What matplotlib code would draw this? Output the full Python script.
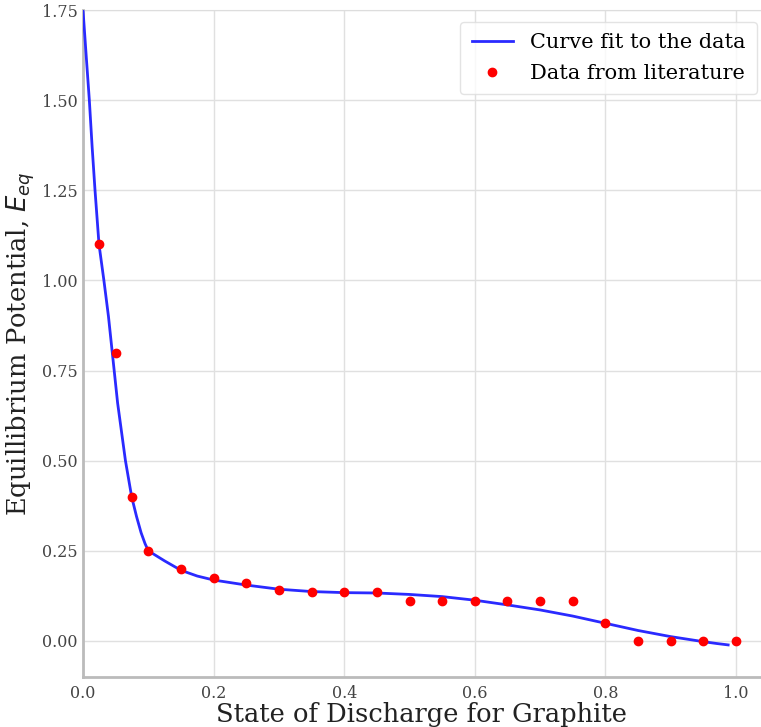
import matplotlib
matplotlib.use("Agg")
import matplotlib.pyplot as plt

# Literature data points
sod_data = [0.025, 0.05, 0.075, 0.1, 0.15, 0.2, 0.25, 0.3, 0.35, 0.4, 0.45, 0.5,
            0.55, 0.6, 0.65, 0.7, 0.75, 0.8, 0.85, 0.9, 0.95, 1.0]
eq_data = [1.1, 0.8, 0.4, 0.25, 0.2, 0.175, 0.16, 0.14, 0.135, 0.135, 0.135, 0.11,
           0.11, 0.11, 0.11, 0.11, 0.11, 0.05, 0.0, 0.0, 0.0, 0.0]

# Curve fit
sod_fit = [0.0, 0.005, 0.0097, 0.014, 0.0184, 0.0245, 0.032, 0.039, 0.046, 0.053, 0.059,
           0.065, 0.0745, 0.082, 0.089, 0.095, 0.1, 0.125, 0.15, 0.175, 0.2, 0.25,
           0.3, 0.35, 0.4, 0.45, 0.5, 0.55, 0.6, 0.65, 0.7, 0.75, 0.8, 0.85, 0.9, 0.95, 0.97, 0.988]
eq_fit = [1.75, 1.62, 1.5, 1.37, 1.25, 1.1, 1.0, 0.9, 0.78, 0.66, 0.58,
          0.5, 0.4, 0.345, 0.3, 0.27, 0.25, 0.222, 0.196, 0.18, 0.169, 0.155,
          0.1435, 0.137, 0.134, 0.133, 0.129, 0.123, 0.113, 0.1, 0.086, 0.069, 0.049, 0.029, 0.012, -0.002, -0.007, -0.011]

xticks = [0.0, 0.2, 0.4, 0.6, 0.8, 1.0]
yticks = [0.0, 0.25, 0.5, 0.75, 1.0, 1.25, 1.5, 1.75]

plt.rcParams['font.family'] = ['DejaVu Serif']
plt.rcParams['mathtext.fontset'] = 'dejavusans'

fig = plt.figure(figsize=(7.61, 7.27), dpi=100)
ax = fig.add_axes([83/761, (727-677)/727, (761-83)/761, (677-10)/727])

ax.plot(sod_fit, eq_fit, color='#2a2aff', lw=2, label='Curve fit to the data', zorder=3)
ax.plot(sod_data, eq_data, 'o', color='red', ms=6, label='Data from literature', zorder=4)

ax.set_xlim(0, (761-83)/653)
ax.set_ylim(-0.1, 1.75)
ax.set_xticks(xticks)
ax.set_yticks(yticks)
ax.set_xticklabels([f"{v:.1f}" for v in xticks])
ax.set_yticklabels([f"{v:.2f}" for v in yticks])
ax.tick_params(length=0, labelsize=11.5, labelcolor='#444444')
ax.tick_params(axis='y', pad=4)
ax.tick_params(axis='x', pad=6)
ax.grid(True, color='#e0e0e0', lw=1)
ax.set_axisbelow(True)
for s in ['left', 'bottom']:
    ax.spines[s].set_color('#bbbbbb')
    ax.spines[s].set_linewidth(2)
ax.spines['top'].set_color('#dddddd')
ax.spines['right'].set_visible(False)

ax.set_xlabel('State of Discharge for Graphite', fontsize=18.5, labelpad=0, color='#222222')
ax.set_ylabel(r'Equillibrium Potential, $E_{eq}$', fontsize=18.5, labelpad=3, color='#222222')

leg = ax.legend(loc='upper right', fontsize=15, frameon=True, fancybox=True,
                edgecolor='#dddddd', bbox_to_anchor=(0.994, 0.982), borderaxespad=0,
                handlelength=2.0, borderpad=0.55, labelspacing=0.55, handletextpad=0.8)
leg.get_frame().set_linewidth(1)

fig.savefig('out.png', dpi=100)
